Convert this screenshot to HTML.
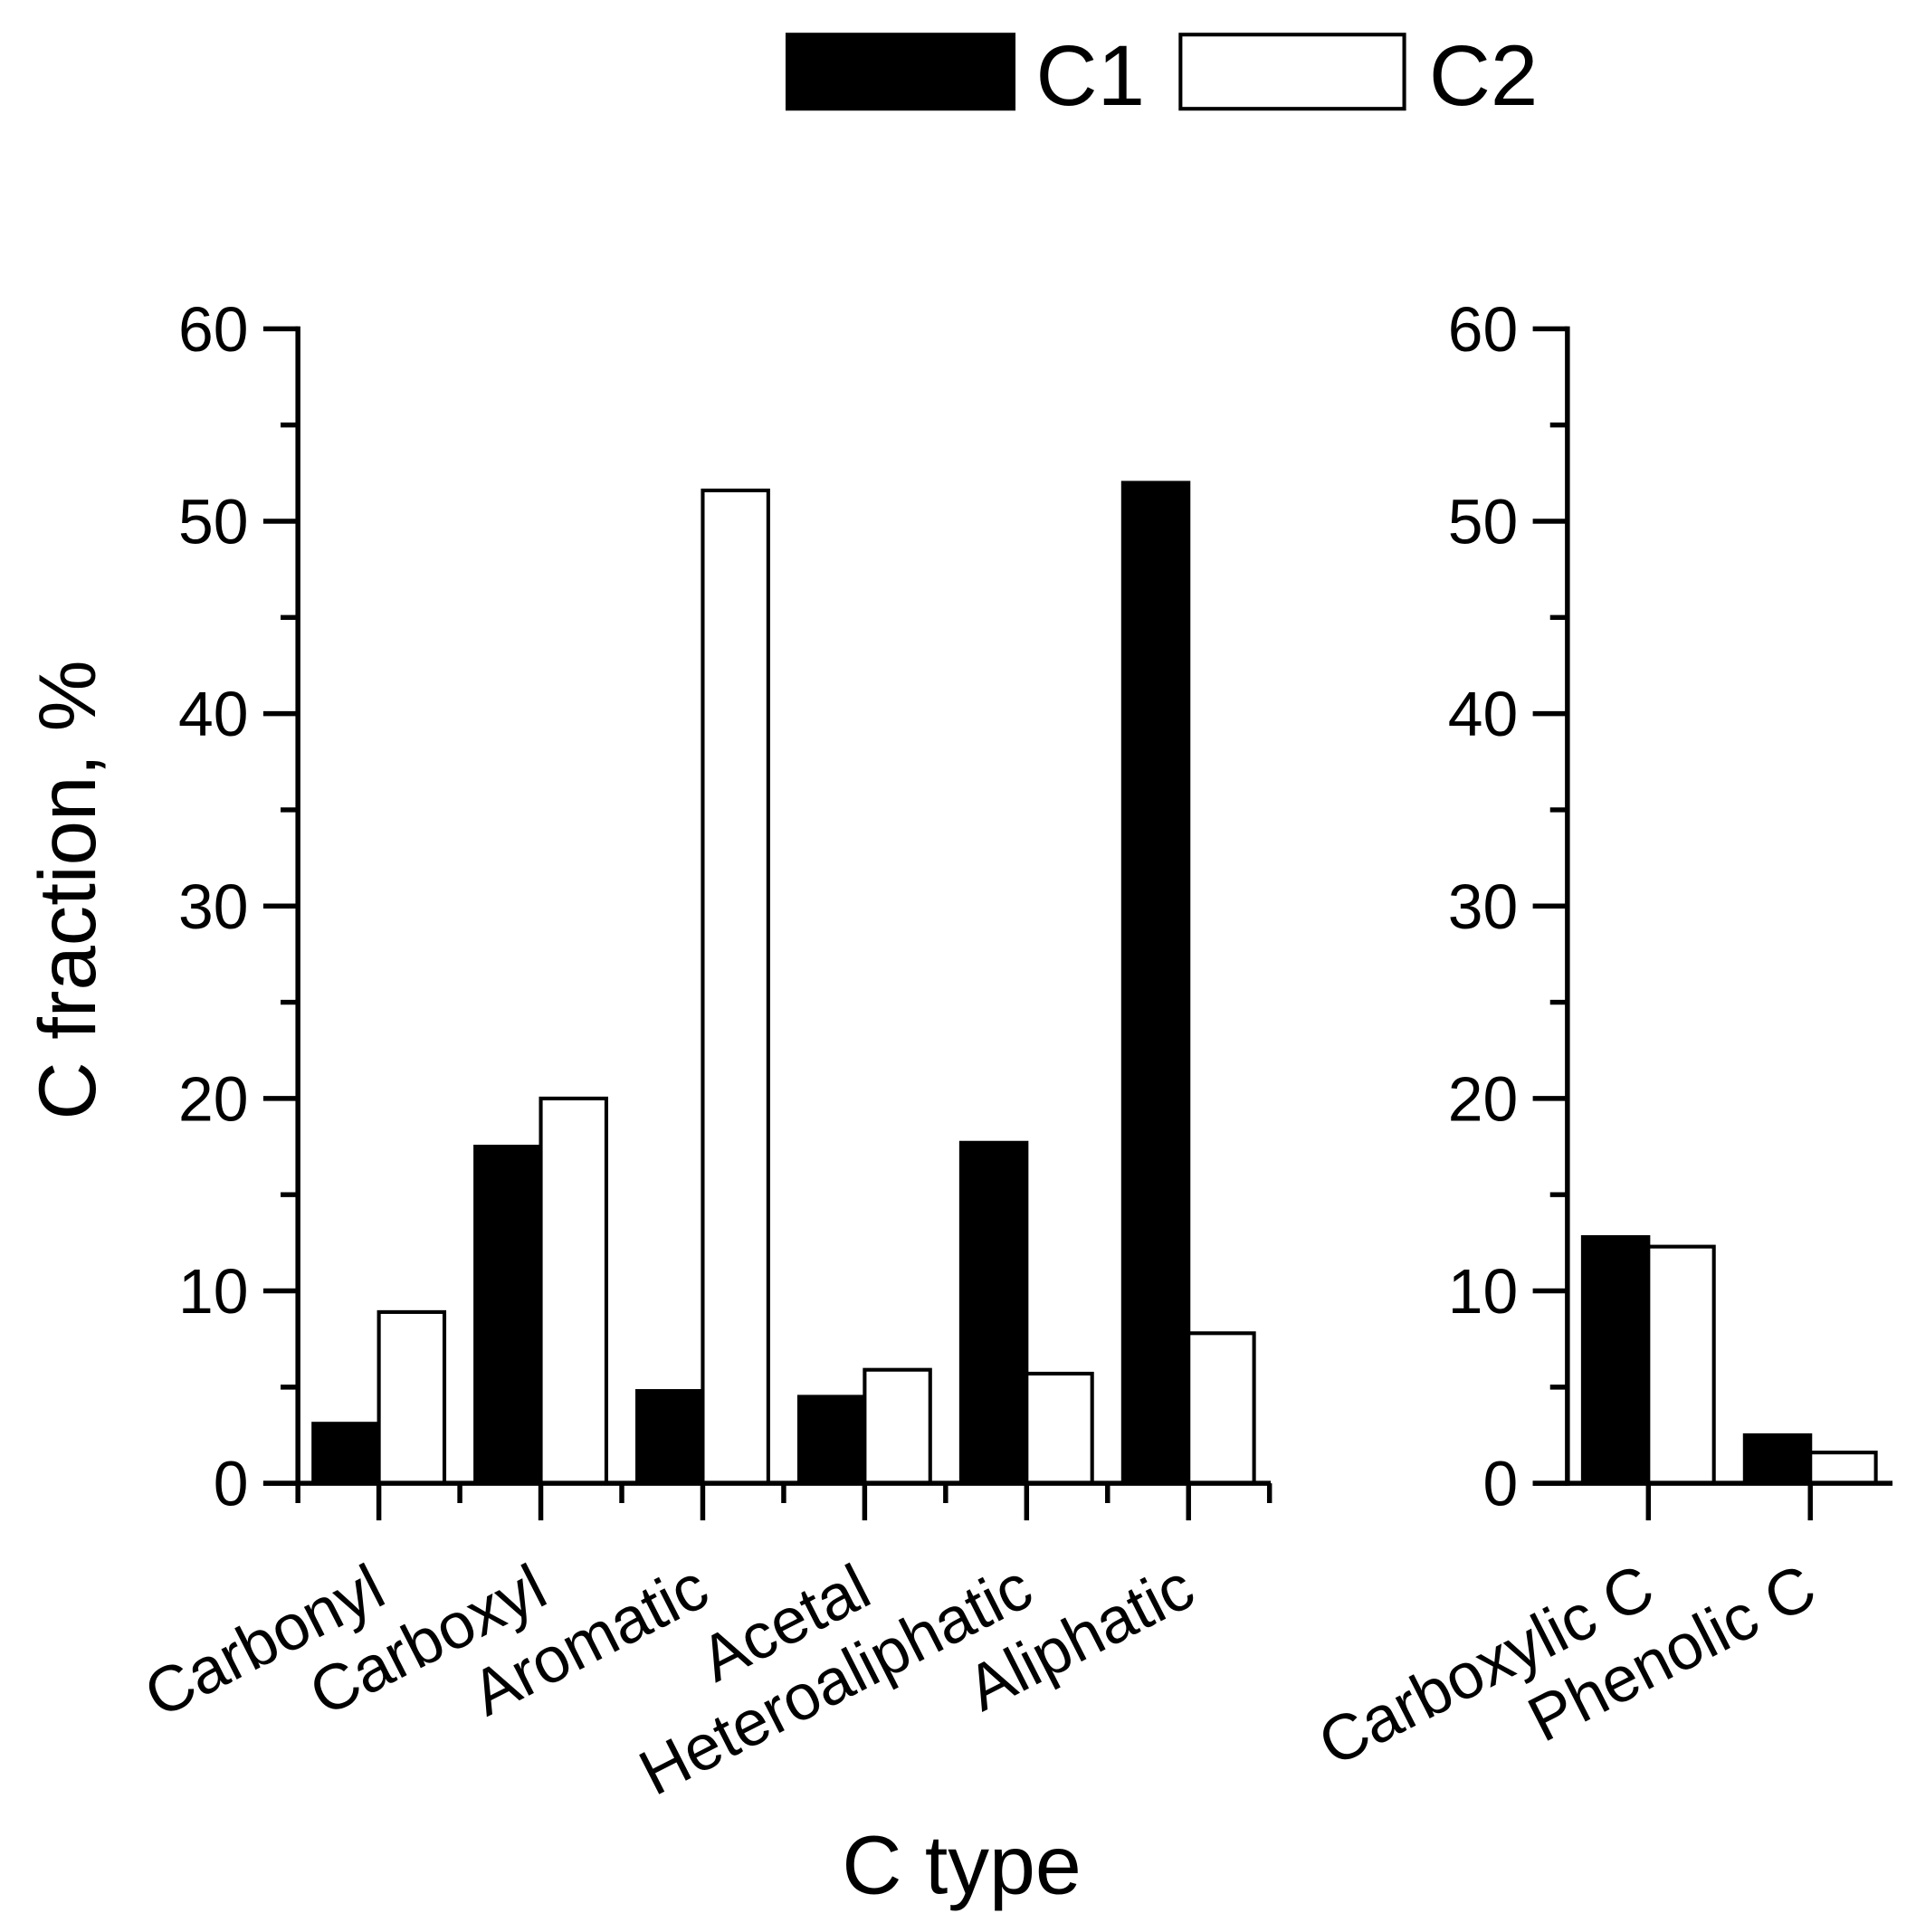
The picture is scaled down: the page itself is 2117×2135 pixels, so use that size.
<!DOCTYPE html>
<html><head><meta charset="utf-8"><style>
html,body{margin:0;padding:0;background:#fff}
svg{display:block}
text{font-family:"Liberation Sans",Arial,sans-serif;fill:#000}
</style></head><body>
<svg id="chart" width="2117" height="2135" viewBox="0 0 1550 1563" preserveAspectRatio="none" xmlns="http://www.w3.org/2000/svg">
<g id="legend">
<rect x="637" y="28" width="183" height="60" fill="#000" stroke="#000" stroke-width="3"/>
<text x="838" y="85" font-size="69">C1</text>
<rect x="955" y="28" width="181" height="60" fill="#fff" stroke="#000" stroke-width="3"/>
<text x="1156" y="85" font-size="69">C2</text>
</g>
<text transform="translate(77,720) rotate(-90)" text-anchor="middle" font-size="65">C fraction, %</text>
<text x="778" y="1532" text-anchor="middle" font-size="67">C type</text>
<g id="plot1"></g>
<g id="plot2"></g>
</svg>
<script>
const cats1 = ["Carbonyl","Carboxyl","Aromatic","Acetal","Heteroaliphatic","Aliphatic"];
const c1Left = [3.1,17.5,4.8,4.5,17.7,52.0];
const c2Left = [8.9,20.0,51.6,5.9,5.7,7.8];
const cats2 = ["Carboxylic C","Phenolic C"];
const c1Right = [12.8,2.5];
const c2Right = [12.3,1.6];
const yTicks = [0,10,20,30,40,50,60];

const NS="http://www.w3.org/2000/svg";
function el(parent,tag,attrs){const e=document.createElementNS(NS,tag);for(const k in attrs)e.setAttribute(k,attrs[k]);parent.appendChild(e);return e;}
const y0=1200, yTop=266, yMax=60;
function yScale(v){return y0-(v/yMax)*(y0-yTop);}
const step=131, barW=53;

function panel(g, axisX, axisEnd, cats, s1, s2, minorX){
  const xc=i=>axisX+65.5+i*step;
  cats.forEach((c,i)=>{
    const b1=el(g,'rect',{x:xc(i)-barW,y:yScale(s1[i]),width:barW,height:y0-yScale(s1[i]),fill:'#000',stroke:'#000','stroke-width':3});
    
    
    const b2=el(g,'rect',{x:xc(i),y:yScale(s2[i]),width:barW,height:y0-yScale(s2[i]),fill:'#fff',stroke:'#000','stroke-width':3});
    
    
    const t=el(g,'text',{'text-anchor':'end','font-size':52,transform:`translate(${xc(i)+8},${1296}) rotate(-27)`});
    t.textContent=c;
    
    
    const tk=el(g,'line',{x1:xc(i),x2:xc(i),y1:y0,y2:y0+30,stroke:'#000','stroke-width':4});
    
    
    if(minorX){
      const mk=el(g,'line',{x1:xc(i)+65.5,x2:xc(i)+65.5,y1:y0,y2:y0+16,stroke:'#000','stroke-width':4});
      
      
    }
  });
  if(minorX){
    const mk=el(g,'line',{x1:axisX,x2:axisX,y1:y0,y2:y0+16,stroke:'#000','stroke-width':4});
    
    
  }
  const ya=el(g,'line',{x1:axisX,x2:axisX,y1:yTop-2,y2:y0+2,stroke:'#000','stroke-width':4});
  
  
  const xa=el(g,'line',{x1:axisX-28,x2:axisEnd,y1:y0,y2:y0,stroke:'#000','stroke-width':4});
  
  
  yTicks.forEach((v,i)=>{
    const t=el(g,'line',{x1:axisX-28,x2:axisX,y1:yScale(v),y2:yScale(v),stroke:'#000','stroke-width':4});
    
    
    const lb=el(g,'text',{x:axisX-40,y:yScale(v)+18,'text-anchor':'end','font-size':51});
    lb.textContent=String(v);
    
    
    if(i<yTicks.length-1){
      const m=el(g,'line',{x1:axisX-14,x2:axisX,y1:yScale(v+5),y2:yScale(v+5),stroke:'#000','stroke-width':4});
      
      
    }
  });
}
panel(document.getElementById('plot1'),241,1028,cats1,c1Left,c2Left,true);
panel(document.getElementById('plot2'),1268,1531,cats2,c1Right,c2Right,false);
</script>
</body></html>
